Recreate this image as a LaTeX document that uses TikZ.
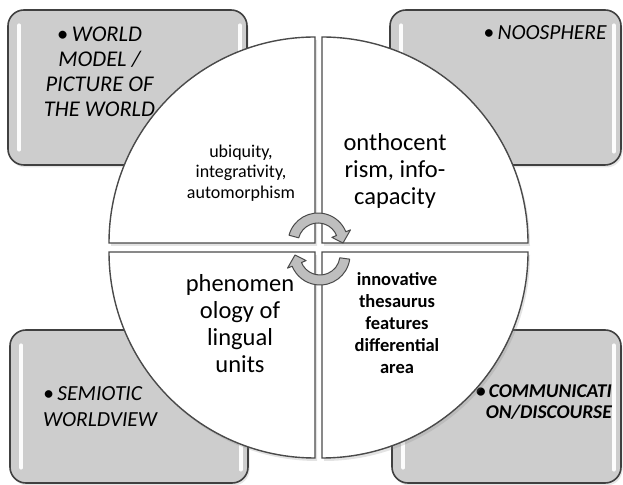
\documentclass[tikz,border=0pt]{standalone}
\usepackage{fontspec}
\setmainfont{Carlito}
\usetikzlibrary{shadows}
\definecolor{boxfill}{HTML}{CDCDCD}
\definecolor{boxline}{HTML}{404040}
\definecolor{quadline}{HTML}{4A4A4A}
\definecolor{arrowfill}{HTML}{BEBEBE}
\begin{document}
\begin{tikzpicture}[x=1pt,y=1pt,
  boxshape/.style={draw=boxline, fill=boxfill, line width=1.6pt, rounded corners=16pt, inner sep=0pt,
    drop shadow={opacity=0.2, shadow xshift=1.5pt, shadow yshift=-2.5pt}},
  glint/.style={draw=white, line width=3.5pt, line cap=round, opacity=0.95},
  quad/.style={draw=quadline, fill=white, line width=1.4pt,
    drop shadow={opacity=0.22, shadow xshift=2pt, shadow yshift=-3pt}},
  boxtext/.style={inner sep=0pt, font=\fontsize{21.5}{25}\selectfont\itshape},
  qtext/.style={inner sep=0pt, align=center},
  cyc/.style={draw=quadline, fill=arrowfill, line width=1pt, line join=round}]
\useasboundingbox (0,0) rectangle (623,484);

% corner boxes
\node[boxshape, minimum width=239pt, minimum height=155pt] (tl) at (127.5,396.5) {};
\node[boxshape, minimum width=231pt, minimum height=155pt] (tr) at (505.5,396.5) {};
\node[boxshape, minimum width=238pt, minimum height=153pt] (bl) at (129,77.5) {};
\node[boxshape, minimum width=229pt, minimum height=153pt] (br) at (506.5,77.5) {};

\foreach \b in {tl,tr,bl,br}{
  \draw[glint] ([xshift=12pt,yshift=-16pt]\b.north west) -- ([xshift=12pt,yshift=16pt]\b.south west);
  \draw[glint] ([xshift=-8pt,yshift=-16pt]\b.north east) -- ([xshift=-8pt,yshift=14pt]\b.south east);
}

% box texts
\node[boxtext, align=center, font=\fontsize{22.5}{25}\selectfont\itshape] (tltext) at (99.5,412.5) {\textbullet\,WORLD\\MODEL /\\PICTURE OF\\THE WORLD};
\node[boxtext] (trtext) at (545,451) {\textbullet\,NOOSPHERE};
\node[boxtext, align=left, anchor=west, font=\fontsize{21.5}{26}\selectfont\itshape] (bltext) at (43,77) {\textbullet\,SEMIOTIC\\WORLDVIEW};
\node[boxtext, align=right, anchor=east, font=\fontsize{19.5}{21}\selectfont\bfseries\itshape] (brtext) at (612,82) {\textbullet\,COMMUNICATI\\ON/DISCOURSE};

% quadrants
\path[quad] (315,241) -- ++(0,206) arc[start angle=90, end angle=180, radius=206] -- cycle;
\path[quad] (322,241) -- ++(206,0) arc[start angle=0, end angle=90, radius=206] -- cycle;
\path[quad] (315,232) -- ++(-206,0) arc[start angle=180, end angle=270, radius=206] -- cycle;
\path[quad] (322,232) -- ++(0,-206) arc[start angle=270, end angle=360, radius=206] -- cycle;

% quadrant texts
\node[qtext, font=\fontsize{18}{20.5}\selectfont] (q1) at (241,311) {ubiquity,\\integrativity,\\automorphism};
\node[qtext, font=\fontsize{24.5}{27}\selectfont] (q2) at (395,313) {onthocent\\rism, info-\\capacity};
\node[qtext, font=\fontsize{24.5}{27}\selectfont] (q3) at (240,160) {phenomen\\ology of\\lingual\\units};
\node[qtext, font=\fontsize{18.5}{22}\selectfont\bfseries] (q4) at (397,161) {innovative\\thesaurus\\features\\differential\\area};

% central cycle arrows
\begin{scope}[shift={(318,241)}]
  \path[cyc] (165:30) arc[start angle=165, end angle=22, radius=30] -- (22:35) -- (0:25)
     -- (22:15) -- (22:20) arc[start angle=22, end angle=165, radius=20] -- cycle;
\end{scope}
\begin{scope}[shift={(320,229)}]
  \path[cyc] (-8:30) arc[start angle=-8, end angle=-158, radius=30] -- (-158:35) -- (-180:25)
     -- (-158:15) -- (-158:20) arc[start angle=-158, end angle=-8, radius=20] -- cycle;
\end{scope}
\end{tikzpicture}
\end{document}
